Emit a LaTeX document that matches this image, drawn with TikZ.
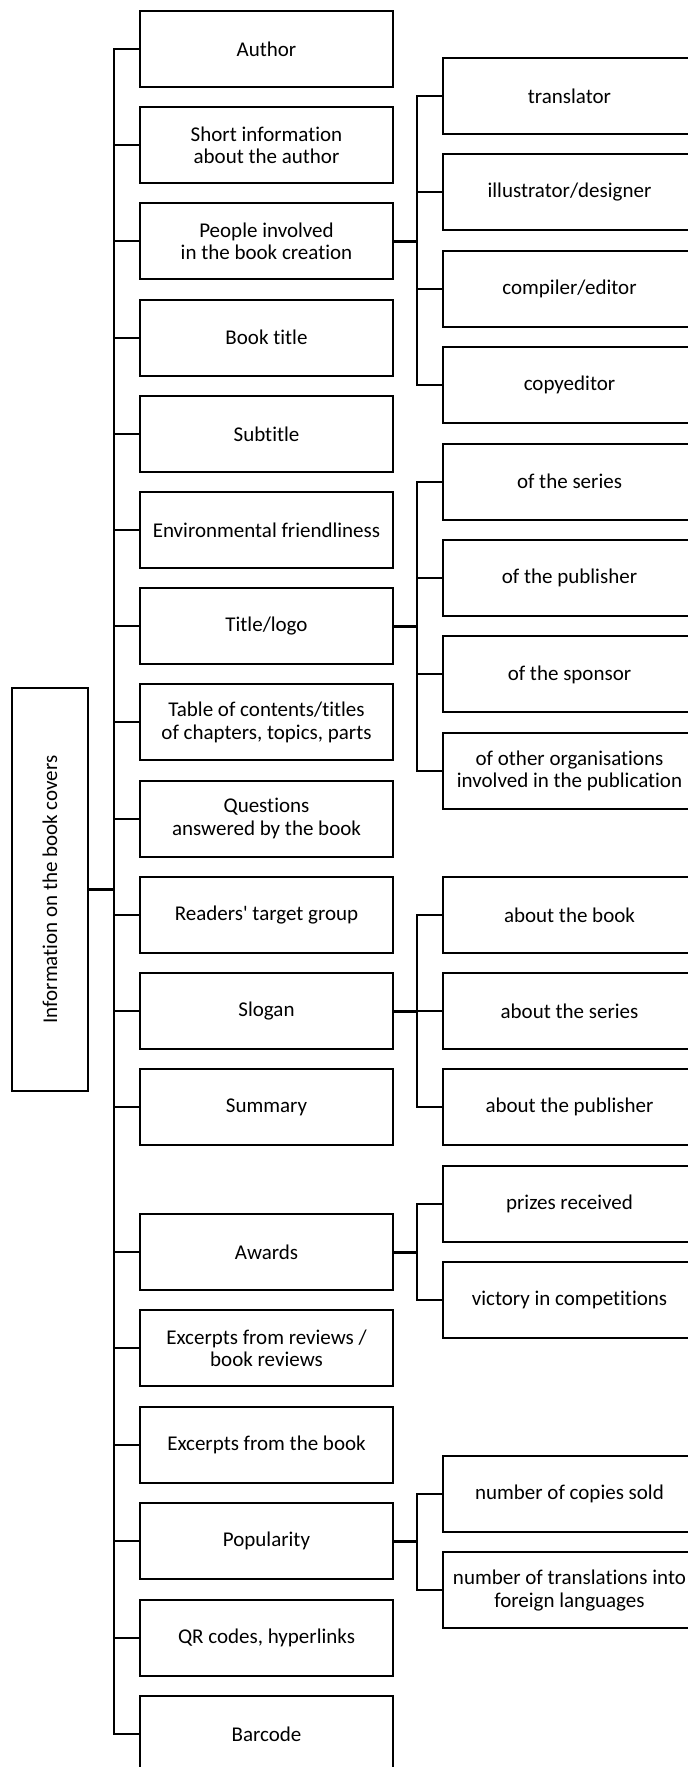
\documentclass[tikz,border=0pt]{standalone}
\usepackage{fontspec}
\setmainfont[Ligatures={TeXOff,NoCommon}]{Carlito}
\begin{document}
\begin{tikzpicture}[x=1pt,y=-1pt,
  box/.style={draw=black,line width=2pt,minimum width=253pt,minimum height=76pt,
    inner sep=0pt,anchor=north west,align=center,font=\fontsize{21}{22.5}\selectfont},
  rootbox/.style={draw=black,line width=2pt,minimum width=403pt,minimum height=76pt,
    inner sep=0pt,rotate=90,font=\fontsize{21}{22.5}\selectfont},
  conn/.style={draw=black,line width=2pt},
  thickconn/.style={draw=black,line width=3pt}]
\clip (0,0) rectangle (688,1767);
\fill[white] (0,0) rectangle (688,1767);
\coordinate (sp) at (114,0);
\coordinate (sb) at (417,0);
% root
\node[rootbox] (root) at (50,889.5) {Information on the book covers};
% left column
\node[box] (L1) at (139,10) {Author};
\node[box] (L2) at (139,106.2) {Short information\\about the author};
\node[box] (L3) at (139,202.4) {People involved\\in the book creation};
\node[box] (L4) at (139,298.6) {Book title};
\node[box] (L5) at (139,394.8) {Subtitle};
\node[box] (L6) at (139,491) {Environmental friendliness};
\node[box] (L7) at (139,587.2) {Title/logo};
\node[box] (L8) at (139,683.4) {Table of contents/titles\\of chapters, topics, parts};
\node[box] (L9) at (139,779.6) {Questions\\answered by the book};
\node[box] (L10) at (139,875.8) {Readers' target group};
\node[box] (L11) at (139,972) {Slogan};
\node[box] (L12) at (139,1068.2) {Summary};
\node[box] (L13) at (139,1213) {Awards};
\node[box] (L14) at (139,1309.4) {Excerpts from reviews /\\book reviews};
\node[box] (L15) at (139,1405.8) {Excerpts from the book};
\node[box] (L16) at (139,1502.2) {Popularity};
\node[box] (L17) at (139,1598.6) {QR codes, hyperlinks};
\node[box] (L18) at (139,1695) {Barcode};
% right column
\node[box] (R1) at (442,57) {translator};
\node[box] (R2) at (442,153.4) {illustrator/designer};
\node[box] (R3) at (442,249.8) {compiler/editor};
\node[box] (R4) at (442,346.2) {copyeditor};
\node[box] (R5) at (442,442.6) {of the series};
\node[box] (R6) at (442,539) {of the publisher};
\node[box] (R7) at (442,635.4) {of the sponsor};
\node[box] (R8) at (442,731.8) {of other organisations\\involved in the publication};
\node[box] (R9) at (442,875.8) {about the book};
\node[box] (R10) at (442,972) {about the series};
\node[box] (R11) at (442,1068.2) {about the publisher};
\node[box] (R12) at (442,1165) {prizes received};
\node[box] (R13) at (442,1261.4) {victory in competitions};
\node[box] (R14) at (442,1455) {number of copies sold};
\node[box] (R15) at (442,1551.4) {number of translations into\\foreign languages};
% main spine
\draw[thickconn] (root.south) -- (root.south -| sp);
\draw[conn] (L1.west) -- (L1.west -| sp) -- (L18.west -| sp) -- (L18.west);
\foreach \i in {2,...,17} \draw[conn] (L\i.west) -- (L\i.west -| sp);
% group: people
\draw[thickconn] (L3.east) -- (L3.east -| sb);
\draw[conn] (R1.west) -- (R1.west -| sb) -- (R4.west -| sb) -- (R4.west);
\foreach \i in {2,3} \draw[conn] (R\i.west) -- (R\i.west -| sb);
% group: title/logo
\draw[thickconn] (L7.east) -- (L7.east -| sb);
\draw[conn] (R5.west) -- (R5.west -| sb) -- (R8.west -| sb) -- (R8.west);
\foreach \i in {6,7} \draw[conn] (R\i.west) -- (R\i.west -| sb);
% group: slogan
\draw[thickconn] (L11.east) -- (L11.east -| sb);
\draw[conn] (R9.west) -- (R9.west -| sb) -- (R11.west -| sb) -- (R11.west);
\draw[conn] (R10.west) -- (R10.west -| sb);
% group: awards
\draw[thickconn] (L13.east) -- (L13.east -| sb);
\draw[conn] (R12.west) -- (R12.west -| sb) -- (R13.west -| sb) -- (R13.west);
% group: popularity
\draw[thickconn] (L16.east) -- (L16.east -| sb);
\draw[conn] (R14.west) -- (R14.west -| sb) -- (R15.west -| sb) -- (R15.west);
\end{tikzpicture}
\end{document}
